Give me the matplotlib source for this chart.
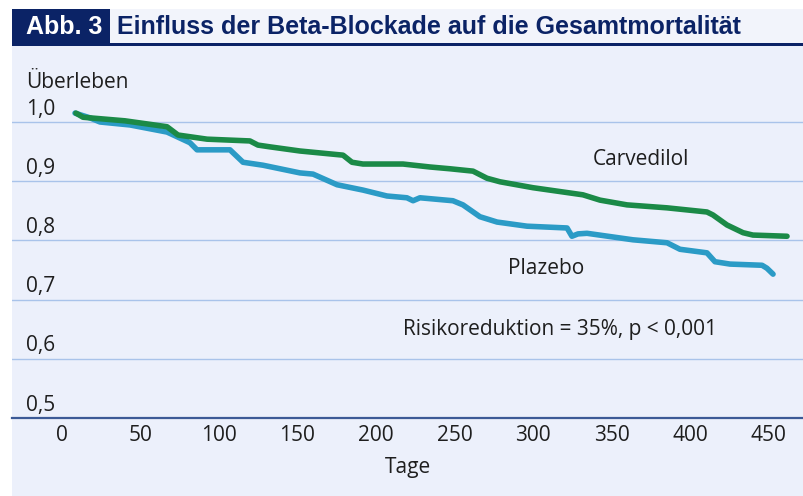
#!/usr/bin/env python3
"""Kaplan-Meier Kurve: Einfluss der Beta-Blockade auf die Gesamtmortalitaet."""

import matplotlib
matplotlib.use("Agg")
import matplotlib.pyplot as plt
from matplotlib.patches import Rectangle
from matplotlib.transforms import blended_transform_factory

# Daten
carvedilol_tage = [8.9, 13.4, 40.1, 66.9, 73.9, 92.4, 119.7, 124.8, 132.5, 151.6,
                   179.0, 184.7, 191.7, 217.2, 234.4, 247.1, 261.8, 270.7, 279.0,
                   300.0, 331.8, 342.7, 359.9, 385.4, 410.8, 414.6, 423.6, 433.8,
                   440.1, 461.8]
carvedilol_ueberleben = [1.015, 1.008, 1.002, 0.992, 0.978, 0.971, 0.968, 0.961, 0.958,
                         0.951, 0.944, 0.932, 0.929, 0.929, 0.924, 0.921, 0.917, 0.905,
                         0.899, 0.889, 0.877, 0.868, 0.860, 0.855, 0.848, 0.843, 0.826,
                         0.813, 0.809, 0.807]

plazebo_tage = [8.3, 17.8, 24.2, 43.3, 66.9, 81.5, 86.0, 107.0, 115.3, 128.0, 151.6,
                159.9, 175.2, 191.7, 207.0, 219.7, 223.6, 228.0, 249.0, 255.4, 266.2,
                277.1, 296.2, 321.7, 324.8, 328.7, 334.4, 363.7, 385.4, 393.6, 410.8,
                415.9, 425.5, 445.9, 449.0, 452.9]
plazebo_ueberleben = [1.015, 1.007, 1.000, 0.995, 0.983, 0.965, 0.953, 0.953, 0.932,
                      0.927, 0.914, 0.912, 0.894, 0.885, 0.875, 0.872, 0.867, 0.872,
                      0.867, 0.860, 0.840, 0.831, 0.824, 0.821, 0.807, 0.811, 0.812,
                      0.801, 0.796, 0.785, 0.779, 0.764, 0.760, 0.758, 0.753, 0.743]

x_ticks = [0, 50, 100, 150, 200, 250, 300, 350, 400, 450]
y_ticks = [0.5, 0.6, 0.7, 0.8, 0.9, 1.0]
y_tick_labels = ["0,5", "0,6", "0,7", "0,8", "0,9", "1,0"]

W, H = 804, 496
NAVY = "#0b2366"
BG = "#ecf0fb"
GREEN = "#1b8a47"
BLUE = "#2b9bc6"
GRID = "#a9c3ea"
TXT = "#1e1e1e"
FS = 15
FONT = ["Open Sans", "DejaVu Sans"]
TITLE_FONT = ["Liberation Sans Narrow", "Liberation Sans", "DejaVu Sans"]


def fx(x):
    return x / W


def fy(y):
    return 1 - y / H


def draw_header(fig):
    # heller Hintergrund und Titelleiste
    fig.patches.append(Rectangle((fx(12), 0), 1 - fx(12), fy(46), transform=fig.transFigure,
                                 facecolor=BG, edgecolor="none", zorder=0))
    fig.patches.append(Rectangle((fx(12), fy(43)), 1 - fx(12), fy(9) - fy(43),
                                 transform=fig.transFigure, facecolor="#f2f4fb",
                                 edgecolor="none", zorder=0))
    fig.patches.append(Rectangle((fx(12), fy(46)), 1 - fx(12), fy(43) - fy(46),
                                 transform=fig.transFigure, facecolor=NAVY,
                                 edgecolor="none", zorder=1))
    fig.patches.append(Rectangle((fx(12), fy(46)), fx(110) - fx(12), fy(9) - fy(46),
                                 transform=fig.transFigure, facecolor=NAVY,
                                 edgecolor="none", zorder=1))
    fig.text(fx(64), fy(27), "Abb. 3", color="white", fontsize=18, fontweight="bold",
             family=TITLE_FONT, ha="center", va="center")
    fig.text(fx(117), fy(27), "Einfluss der Beta-Blockade auf die Gesamtmortalität",
             color=NAVY, fontsize=18, fontweight="bold", family=TITLE_FONT,
             ha="left", va="center")


def px_to_day(x):
    # Pixel -> Tage, nur fuer die Lage der Beschriftungen
    return (x - 62) / 1.57


def main():
    fig = plt.figure(figsize=(W / 100, H / 100), dpi=100)
    fig.patch.set_facecolor("white")
    draw_header(fig)

    ax = fig.add_axes([fx(12), fy(418), 1 - fx(12), fy(55) - fy(418)])
    ax.set_zorder(5)
    ax.set_facecolor("none")
    ax.set_xlim(px_to_day(12), px_to_day(804))
    ax.set_ylim(0.5, 1.0 + (122 - 55) / 592)

    for v in y_ticks[1:]:
        ax.axhline(v, color=GRID, lw=1.0, zorder=1)

    ax.plot(carvedilol_tage, carvedilol_ueberleben, color=GREEN, lw=4.0,
            solid_capstyle="round", solid_joinstyle="round", zorder=3)
    ax.plot(plazebo_tage, plazebo_ueberleben, color=BLUE, lw=4.0,
            solid_capstyle="round", solid_joinstyle="round", zorder=2)

    for s in ["top", "right", "left"]:
        ax.spines[s].set_visible(False)
    ax.spines["bottom"].set_color("#3c5a96")
    ax.spines["bottom"].set_linewidth(1.6)

    ax.set_yticks([])
    ax.set_xticks(x_ticks)
    ax.set_xticklabels([str(t) for t in x_ticks], fontsize=FS, color=TXT, family=FONT)
    ax.tick_params(axis="x", length=0, pad=5)
    ax.set_xlabel("Tage", fontsize=FS, color=TXT, family=FONT, labelpad=8)

    # y-Beschriftung oberhalb der Gitterlinien
    trans = blended_transform_factory(ax.transAxes, ax.transData)
    x_lab = (26 - 12) / (W - 12)
    for v, lab in zip(y_ticks, y_tick_labels):
        ax.text(x_lab, v + 0.004, lab, transform=trans, fontsize=FS, color=TXT,
                family=FONT, ha="left", va="bottom")
    fig.text(fx(26), fy(88), "Überleben", fontsize=FS, color=TXT, family=FONT,
             ha="left", va="baseline")

    ax.text(px_to_day(641), 0.936, "Carvedilol", fontsize=FS, color=TXT, family=FONT,
            ha="center", va="center")
    ax.text(px_to_day(546), 0.753, "Plazebo", fontsize=FS, color=TXT, family=FONT,
            ha="center", va="center")
    ax.text(px_to_day(560), 0.649, "Risikoreduktion = 35%, p < 0,001", fontsize=FS,
            color=TXT, family=FONT, ha="center", va="center")

    fig.savefig("out.png", dpi=100, facecolor=fig.get_facecolor())
    plt.close(fig)


if __name__ == "__main__":
    main()
